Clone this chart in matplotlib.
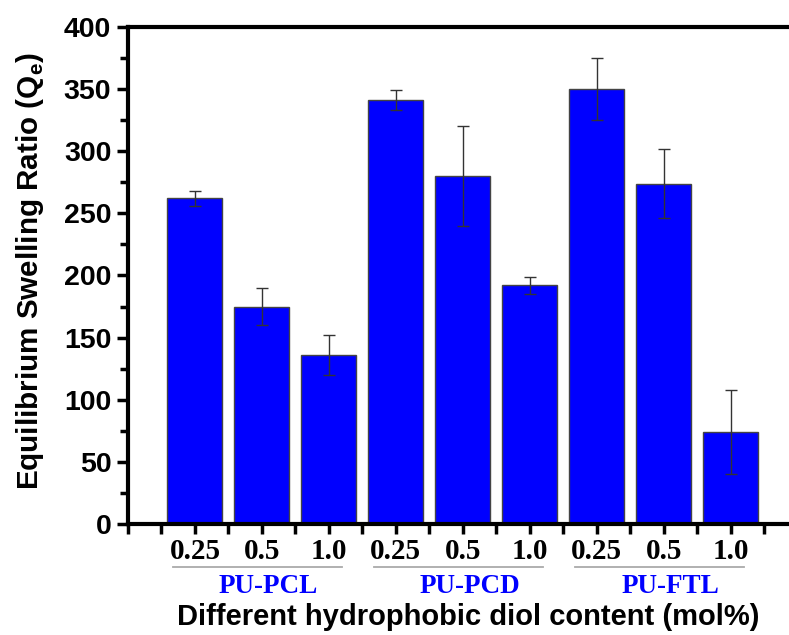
import matplotlib
matplotlib.use("Agg")
import matplotlib.pyplot as plt
import matplotlib.transforms as mtransforms
from matplotlib.ticker import MultipleLocator

# data
contents = ["0.25", "0.5", "1.0", "0.25", "0.5", "1.0", "0.25", "0.5", "1.0"]
swelling = [262, 175, 136, 341, 280, 192, 350, 274, 74]
errors = [6, 15, 16, 8, 40, 7, 25, 28, 34]
groups = ["PU-PCL", "PU-PCD", "PU-FTL"]

x = list(range(1, len(swelling) + 1))

fig = plt.figure(figsize=(7.89, 6.35), dpi=100)
ax = fig.add_axes([0.1622, 0.1748, 0.849, 0.7827])

ax.bar(x, swelling, width=0.82, color="#0000ff", edgecolor="#444444", linewidth=1,
       yerr=errors, error_kw=dict(ecolor="#333333", elinewidth=1, capsize=4.5, capthick=1))

ax.set_xlim(0, 10)
ax.set_ylim(0, 400)
ax.yaxis.set_major_locator(MultipleLocator(50))
ax.yaxis.set_minor_locator(MultipleLocator(25))
ax.set_xticks(x)
ax.set_xticks([v + 0.5 for v in range(0, 10)] + [0], minor=True)
ax.set_xticklabels(contents, fontfamily="Liberation Serif", fontweight="bold", fontsize=21)
for lab in ax.get_yticklabels():
    lab.set_fontfamily("Liberation Sans")
    lab.set_fontweight("bold")
    lab.set_fontsize(20.5)

ax.tick_params(axis="y", which="major", direction="out", length=8, width=2.5, pad=4)
ax.tick_params(axis="y", which="minor", direction="out", length=6, width=2.5)
ax.tick_params(axis="x", which="both", direction="out", length=7, width=2.5, pad=3)

for side in ["left", "bottom", "top"]:
    ax.spines[side].set_linewidth(3)
ax.spines["right"].set_visible(False)

ax.set_ylabel("Equilibrium Swelling Ratio (Q$_\\mathregular{e}$)", fontfamily="Liberation Sans",
              fontweight="bold", fontsize=21.3)
ax.yaxis.set_label_coords(-0.122, 0.509)

# group labels with gray lines
trans = mtransforms.blended_transform_factory(ax.transData, ax.transAxes)
for i, name in enumerate(groups):
    g = x[3 * i + 1]
    ax.plot([g - 1.33, g + 1.2], [-0.0865, -0.0865], color="#aaaaaa", lw=1.3,
            transform=trans, clip_on=False)
    ax.text(g + 0.1, -0.125, name, color="#0000ff", fontfamily="Liberation Serif",
            fontweight="bold", fontsize=19.5, ha="center", va="center", transform=trans)

ax.text(0.5 * (177 + 760) / 789, 18 / 635, "Different hydrophobic diol content (mol%)",
        fontfamily="Liberation Sans", fontweight="bold", fontsize=21,
        ha="center", va="center", transform=fig.transFigure)

fig.savefig("out.png", dpi=100)
